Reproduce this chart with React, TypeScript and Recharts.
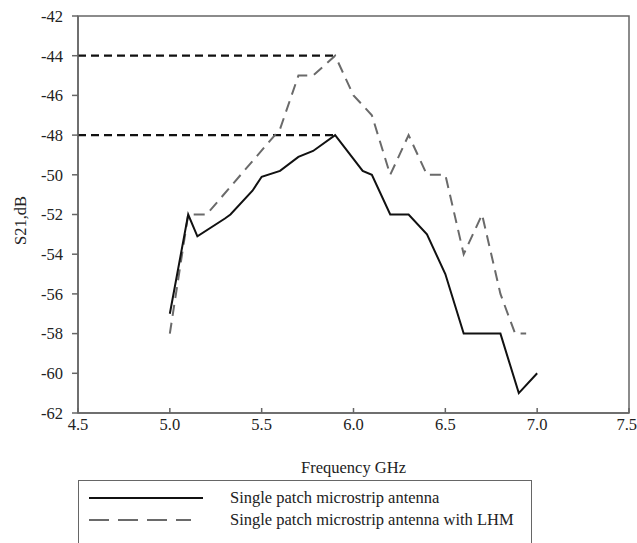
import React from 'react';
import {
  LineChart,
  Line,
  XAxis,
  YAxis,
  ReferenceArea,
  ReferenceLine,
} from 'recharts';

// Frequency (GHz) / S21 (dB)
const plainFreq = [5.0, 5.1, 5.15, 5.3, 5.33, 5.45, 5.5, 5.6, 5.7, 5.78, 5.9, 6.05, 6.1, 6.2, 6.3, 6.4, 6.5, 6.6, 6.8, 6.9, 7.0];
const plainS21 = [-57, -52, -53.1, -52.2, -52, -50.8, -50.1, -49.8, -49.1, -48.8, -48, -49.8, -50, -52, -52, -53, -55, -58, -58, -61, -60];

const lhmFreq = [5.0, 5.1, 5.2, 5.6, 5.7, 5.78, 5.9, 6.0, 6.1, 6.2, 6.3, 6.4, 6.5, 6.6, 6.7, 6.8, 6.88, 6.94];
const lhmS21 = [-58, -52, -52, -47.7, -45, -45, -44, -46, -47, -50, -48, -50, -50, -54, -52, -56, -58, -58];

const xTicks = [4.5, 5.0, 5.5, 6.0, 6.5, 7.0, 7.5];
const yTicks = [-62, -60, -58, -56, -54, -52, -50, -48, -46, -44, -42];

// peak markers: dashed guides from the axis to the two maxima
const peakFreq = 5.9;
const peakLevels = [-44, -48];

const seriesNames = [
  'Single patch microstrip antenna',
  'Single patch microstrip antenna with LHM',
];

const plainData = plainFreq.map((f, i) => ({ f, s21: plainS21[i] }));
const lhmData = lhmFreq.map((f, i) => ({ f, s21: lhmS21[i] }));

const FONT = '"Liberation Serif", "DejaVu Serif", serif';
const FS = 16.5;
const AXIS = '#666';

function YLabel({ viewBox }: { viewBox?: { x: number; y: number; height: number } }) {
  if (!viewBox) return null;
  const cx = 22;
  const cy = viewBox.y + viewBox.height / 2 + 6;
  return (
    <text
      x={cx}
      y={cy}
      transform={`rotate(-90 ${cx} ${cy})`}
      textAnchor="middle"
      dominantBaseline="middle"
      fontFamily={FONT}
      fontSize={FS}
      fill="#222"
    >
      S21,dB
    </text>
  );
}

export default function App() {
  return (
    <div style={{ position: 'absolute', left: 0, top: 0, width: 637, height: 543, background: '#fff', overflow: 'hidden' }}>
      <LineChart
        width={637}
        height={480}
        margin={{ top: 16, right: 8, left: 0, bottom: 0 }}
      >
        <XAxis
          type="number"
          dataKey="f"
          domain={[4.5, 7.5]}
          ticks={xTicks}
          allowDataOverflow
          height={67}
          tickFormatter={(v: number) => v.toFixed(1)}
          tick={{ fontSize: FS, fill: '#222', fontFamily: FONT }}
          tickSize={-5}
          tickMargin={10}
          axisLine={{ stroke: AXIS, strokeWidth: 1.5 }}
          tickLine={{ stroke: AXIS, strokeWidth: 1.5 }}
          label={{ value: 'Frequency GHz', position: 'insideBottom', offset: 7, fontSize: FS, fill: '#222', fontFamily: FONT }}
        />
        <YAxis
          type="number"
          domain={[-62, -42]}
          ticks={yTicks}
          width={78}
          tick={{ fontSize: FS, fill: '#222', fontFamily: FONT }}
          tickSize={6}
          tickMargin={9}
          axisLine={{ stroke: AXIS, strokeWidth: 1.5 }}
          tickLine={{ stroke: AXIS, strokeWidth: 1.5 }}
          label={<YLabel />}
        />
        <ReferenceArea
          x1={4.5}
          x2={7.5}
          y1={-62}
          y2={-42}
          fill="none"
          stroke={AXIS}
          strokeWidth={1.5}
          ifOverflow="visible"
        />
        {peakLevels.map((lv) => (
          <ReferenceLine
            key={lv}
            segment={[{ x: 4.5, y: lv }, { x: peakFreq, y: lv }]}
            stroke="#111"
            strokeWidth={2.2}
            strokeDasharray="8 5"
            ifOverflow="visible"
          />
        ))}
        <Line
          data={lhmData}
          dataKey="s21"
          type="linear"
          stroke="#6a6a6a"
          strokeWidth={2}
          strokeDasharray="11 7"
          dot={false}
          isAnimationActive={false}
        />
        <Line
          data={plainData}
          dataKey="s21"
          type="linear"
          stroke="#111"
          strokeWidth={2}
          dot={false}
          isAnimationActive={false}
        />
      </LineChart>
      <div
        style={{
          position: 'absolute',
          left: 78,
          top: 480,
          width: 454,
          height: 80,
          border: `1px solid ${AXIS}`,
          boxSizing: 'border-box',
          fontFamily: FONT,
          fontSize: FS,
          color: '#222',
        }}
      >
        {seriesNames.map((name, i) => (
          <div key={name} style={{ position: 'absolute', left: 0, top: 7 + i * 22, height: 20, width: 452 }}>
            <svg width={140} height={20} style={{ position: 'absolute', left: 8, top: 0 }}>
              <line
                x1={2}
                x2={i === 0 ? 116 : 104}
                y1={10}
                y2={10}
                stroke={i === 0 ? '#111' : '#6a6a6a'}
                strokeWidth={2}
                strokeDasharray={i === 0 ? undefined : '20 9'}
              />
            </svg>
            <span style={{ position: 'absolute', left: 151, top: 0, lineHeight: '20px', whiteSpace: 'nowrap' }}>{name}</span>
          </div>
        ))}
      </div>
    </div>
  );
}
